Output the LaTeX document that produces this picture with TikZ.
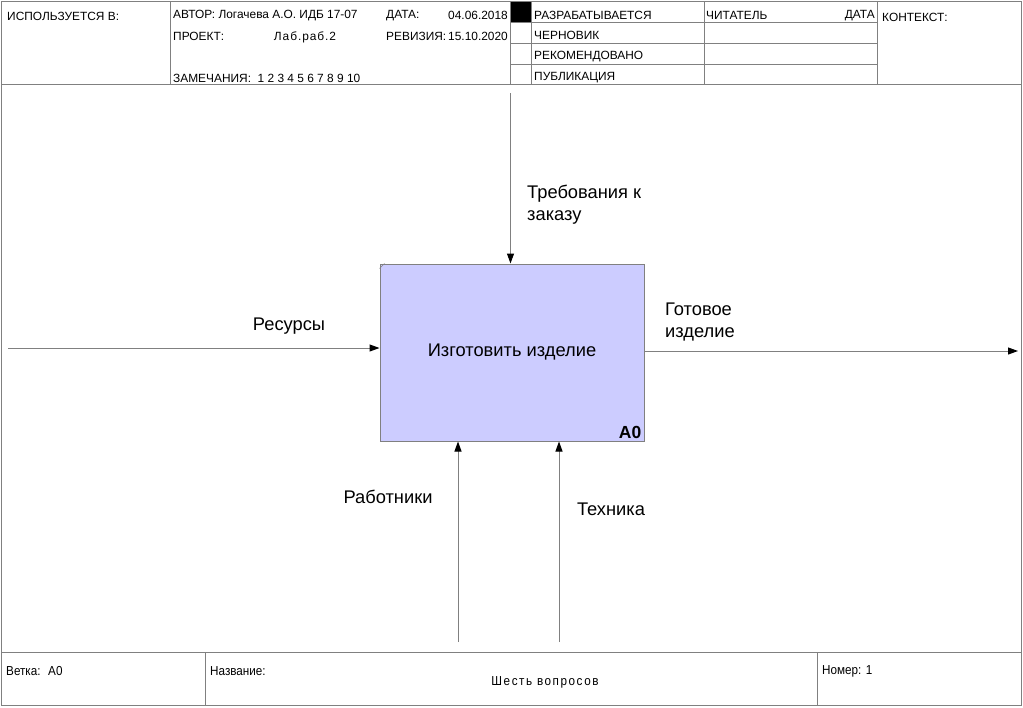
\documentclass[tikz,border=0pt]{standalone}
\usepackage{fontspec}
\setmainfont{Liberation Sans}
\newfontfamily\narrowfont[FakeStretch=0.9]{Liberation Sans}
\usetikzlibrary{arrows.meta}
\definecolor{boxfill}{RGB}{204,204,255}

\begin{document}
\begin{tikzpicture}[x=1pt, y=-1pt,
  frame/.style = {draw=gray, line width=1pt},
  hdr/.style = {anchor=west, inner sep=0pt, font=\fontsize{11.9}{14}\selectfont},
  foot/.style = {anchor=west, inner sep=0pt, font=\narrowfont\fontsize{13}{15}\selectfont},
  lbl/.style = {inner sep=0pt, align=left, font=\fontsize{18.3}{22}\selectfont},
  flow/.style = {draw=gray, line width=1pt, -{Triangle[length=10pt,width=7pt,color=black,fill=black]}}]
\useasboundingbox (0,0) rectangle (1023,707);

\draw[frame] (1.5,1.5) rectangle (1021,705.5);
\draw[frame] (1.5,84) -- (1021,84);
\draw[frame] (1.5,652) -- (1021,652);
\foreach \x in {170,510,531,704,877} \draw[frame] (\x,1.5) -- (\x,84);
\foreach \y in {22,43,64} \draw[frame] (510,\y) -- (877,\y);
\fill (510.5,1.5) rectangle (531,22);
\foreach \x in {205,817} \draw[frame] (\x,652) -- (\x,705.5);

\node[hdr] (usedat) at (7,16.5) {ИСПОЛЬЗУЕТСЯ В:};
\node[hdr] (author) at (173,15.5) {АВТОР: Логачева А.О. ИДБ 17-07};
\node[hdr] (date) at (386,15.5) {ДАТА:};
\node[hdr, anchor=east] (dateval) at (508,15.5) {04.06.2018};
\node[hdr] (project) at (173,36.5) {ПРОЕКТ:};
\node[hdr, anchor=center] (projval) at (305,37.5) {\addfontfeature{LetterSpace=8}Лаб.раб.2};
\node[hdr] (revision) at (386,36.5) {РЕВИЗИЯ:};
\node[hdr, anchor=east] (revval) at (508,36.5) {15.10.2020};
\node[hdr] (notes) at (173,78) {ЗАМЕЧАНИЯ:~ 1\ 2\ 3\ 4\ 5\ 6\ 7\ 8\ 9\ 10};
\node[hdr] (working) at (534,15.5) {РАЗРАБАТЫВАЕТСЯ};
\node[hdr] (draft) at (534,35.5) {ЧЕРНОВИК};
\node[hdr] (recommended) at (534,57) {РЕКОМЕНДОВАНО};
\node[hdr] (publication) at (534,78) {ПУБЛИКАЦИЯ};
\node[hdr] (reader) at (706,15.5) {ЧИТАТЕЛЬ};
\node[hdr, anchor=east] (readerdate) at (875,15.5) {ДАТА};
\node[hdr] (context) at (882,17) {КОНТЕКСТ:};

\node[draw=gray, line width=1pt, fill=boxfill, minimum width=264pt, minimum height=177pt,
  inner sep=0pt, font=\fontsize{18.3}{22}\selectfont] (act) at (512,352.5) {Изготовить изделие};
\node[anchor=south east, inner sep=3pt, font=\bfseries\fontsize{17.5}{20}\selectfont] (actnum) at (act.south east) {A0};
\draw[gray] (act.north west) ++(0,5) -- ++(5,-5);

\coordinate (reqin) at (510.5,93);
\coordinate (resin) at (8,348);
\coordinate (prodout) at (1018,351);
\coordinate (staffin) at (458,642);
\coordinate (techin) at (559,642);
\draw[flow] (reqin) -- (reqin |- act.north);
\draw[flow] (resin) -- (resin -| act.west);
\draw[flow] (prodout -| act.east) -- (prodout);
\draw[flow] (staffin) -- (staffin |- act.south);
\draw[flow] (techin) -- (techin |- act.south);

\node[lbl, anchor=west] (reqlbl) at (527,205) {Требования к\\заказу};
\node[lbl] (reslbl) at (289,326) {Ресурсы};
\node[lbl, anchor=west] (prodlbl) at (665,322) {Готовое\\изделие};
\node[lbl] (stafflbl) at (388,497) {Работники};
\node[lbl] (techlbl) at (611,509) {Техника};

\node[foot] (branch) at (6,671) {Ветка:~ A0};
\node[foot] (title) at (210,671) {Название:};
\node[foot, anchor=center] (titleval) at (545,682) {\addfontfeature{LetterSpace=12}Шесть вопросов};
\node[foot] (number) at (822,671) {Номер: 1};
\end{tikzpicture}
\end{document}
